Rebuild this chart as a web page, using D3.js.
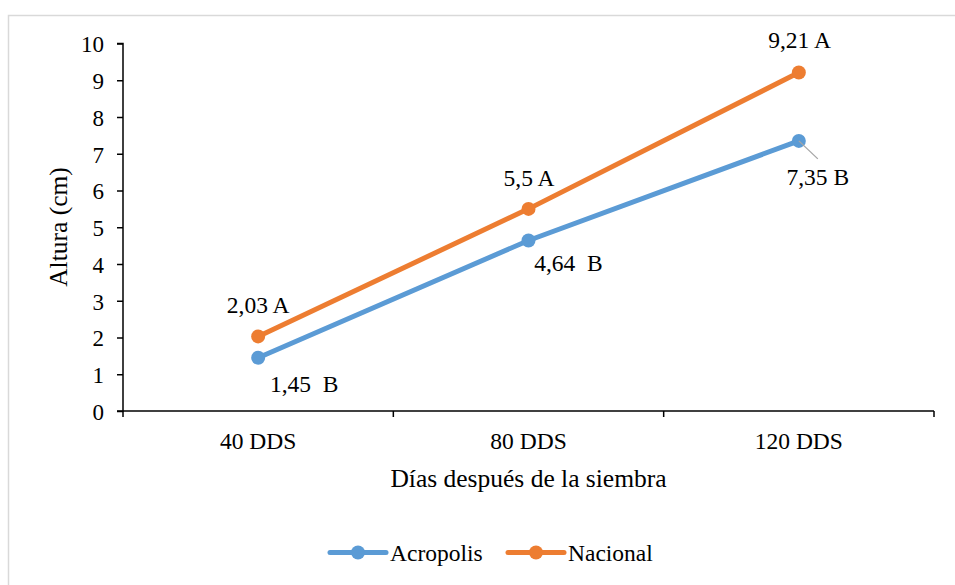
<!DOCTYPE html>
<html><head><meta charset="utf-8">
<script src="https://cdn.jsdelivr.net/npm/d3@7/dist/d3.min.js"></script>
</head><body style="margin:0;background:#fff">
<svg id="c" width="955" height="585" style="display:block"></svg>
<script>
const categories = ["40 DDS","80 DDS","120 DDS"];
const acropolis = [1.45, 4.64, 7.35];
const nacional = [2.03, 5.5, 9.21];
const acropolisLabels = ["1,45  B","4,64  B","7,35 B"];
const nacionalLabels = ["2,03 A","5,5 A","9,21 A"];
const yTicks = [0,1,2,3,4,5,6,7,8,9,10];
const seriesNames = ["Acropolis","Nacional"];
const colors = ["#5B9BD5","#ED7D31"];
const FONT = "Liberation Serif, Times New Roman, serif";

const svg = d3.select("#c");
svg.append("rect").attr("x",8.5).attr("y",15.5).attr("width",960).attr("height",600)
  .attr("fill","#fff").attr("stroke","#d9d9d9").attr("stroke-width",1.5);

const L=123, R=934, T=43.5, B=411;
const x = d3.scaleBand().domain(categories).range([L,R]);
const y = d3.scaleLinear().domain([0,10]).range([B,T]);

// y axis
const ya = svg.append("g").attr("transform",`translate(${L},0)`)
  .call(d3.axisLeft(y).tickValues(yTicks).tickSize(6).tickPadding(13));
ya.attr("font-family", FONT).attr("font-size",23);
ya.select(".domain").attr("stroke","#000").attr("stroke-width",1.5).attr("d",`M-6,${T}H0V${B}H-6`);
ya.selectAll(".tick line").attr("stroke","#000").attr("stroke-width",1.5);
ya.selectAll(".tick text").attr("font-family",FONT).attr("font-size",23).attr("fill","#000").attr("dy","0.36em");

// x axis
const xa = svg.append("g").attr("transform",`translate(0,${B})`)
  .call(d3.axisBottom(x).tickSize(0).tickPadding(21));
xa.attr("font-family", FONT).attr("font-size",23.5);
xa.select(".domain").attr("stroke","#000").attr("stroke-width",1.5).attr("d",`M${L},0H${R}`);
xa.selectAll(".tick text").attr("font-family",FONT).attr("font-size",23.5).attr("fill","#000");
const bounds = [L, ...categories.slice(1).map(c=>x(c)), R];
svg.append("g").selectAll("line").data(bounds).join("line")
  .attr("x1",d=>d).attr("x2",d=>d).attr("y1",B).attr("y2",B+6)
  .attr("stroke","#000").attr("stroke-width",1.5);

// titles
svg.append("text").attr("x",(L+R)/2).attr("y",487).attr("text-anchor","middle")
  .attr("font-family",FONT).attr("font-size",25.5).text("Días después de la siembra");
svg.append("text").attr("transform",`translate(67,227) rotate(-90)`).attr("text-anchor","middle")
  .attr("font-family",FONT).attr("font-size",25.5).text("Altura (cm)");

const cx = c => x(c)+x.bandwidth()/2;
const line = d3.line().x((d,i)=>cx(categories[i])).y(d=>y(d));
const series = [acropolis, nacional];
series.forEach((s,k)=>{
  svg.append("path").attr("d",line(s)).attr("fill","none").attr("stroke",colors[k]).attr("stroke-width",5).attr("stroke-linecap","round");
  svg.append("g").selectAll("circle").data(s).join("circle")
    .attr("cx",(d,i)=>cx(categories[i])).attr("cy",d=>y(d)).attr("r",7).attr("fill",colors[k]);
});

// leader line for 7,35
svg.append("line").attr("x1",cx(categories[2])).attr("y1",y(acropolis[2]))
  .attr("x2",cx(categories[2])+19).attr("y2",y(acropolis[2])+18).attr("stroke","#a6a6a6").attr("stroke-width",1.3);

// data labels
const acrOff = [[46,34],[40,30.5],[19,44]];
const nacOff = [[0,-23.5],[0.5,-23],[0.7,-24.5]];
svg.append("g").selectAll("text").data(acropolis).join("text")
  .attr("x",(d,i)=>cx(categories[i])+acrOff[i][0]).attr("y",(d,i)=>y(d)+acrOff[i][1])
  .attr("text-anchor","middle").attr("font-family",FONT).attr("font-size",23.5).attr("xml:space","preserve").style("white-space","pre")
  .text((d,i)=>acropolisLabels[i]);
svg.append("g").selectAll("text").data(nacional).join("text")
  .attr("x",(d,i)=>cx(categories[i])+nacOff[i][0]).attr("y",(d,i)=>y(d)+nacOff[i][1])
  .attr("text-anchor","middle").attr("font-family",FONT).attr("font-size",23.5)
  .text((d,i)=>nacionalLabels[i]);

// legend
const lg = svg.append("g");
const lx = [330, 508];
seriesNames.forEach((n,k)=>{
  lg.append("line").attr("x1",lx[k]).attr("x2",lx[k]+56).attr("y1",552.5).attr("y2",552.5).attr("stroke",colors[k]).attr("stroke-width",5).attr("stroke-linecap","round");
  lg.append("circle").attr("cx",lx[k]+28).attr("cy",552.5).attr("r",7).attr("fill",colors[k]);
  lg.append("text").attr("x",lx[k]+60).attr("y",560.5).attr("font-family",FONT).attr("font-size",23.5).text(n);
});
</script></body></html>
